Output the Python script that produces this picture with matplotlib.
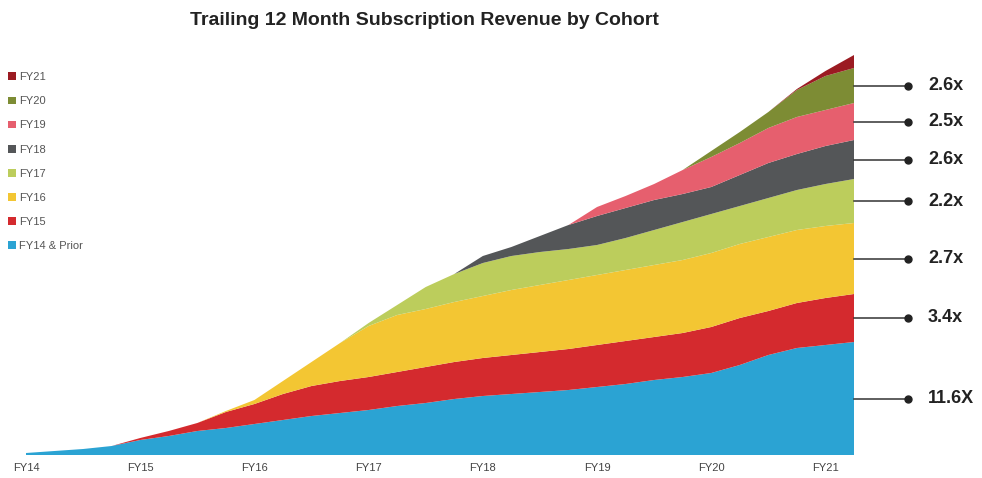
import numpy as np
import matplotlib.pyplot as plt

plt.rcParams['font.family'] = ['Liberation Sans', 'DejaVu Sans']

# quarterly points, FY14 = 0
quarters = np.arange(30) * 0.25
year_labels = ['FY14', 'FY15', 'FY16', 'FY17', 'FY18', 'FY19', 'FY20', 'FY21']

cohorts = ['FY14 & Prior', 'FY15', 'FY16', 'FY17', 'FY18', 'FY19', 'FY20', 'FY21']
fy14_prior = [2, 4, 6, 9, 15, 19, 24, 27, 31, 35, 39, 42, 45, 49, 52, 56, 59, 61, 63, 65,
              68, 71, 75, 78, 82, 90, 100, 107, 110, 113]
fy15 = [0, 0, 0, 0, 2, 5, 8, 16, 20, 26, 30, 32, 33, 34, 36, 37, 38, 39, 40, 41,
        42, 43, 43, 44, 46, 47, 44, 45, 47, 48]
fy16 = [0] * 7 + [1, 4, 13, 24, 38, 51, 57, 58, 60, 62, 65, 67, 69, 70, 71, 72, 73, 74,
                  74, 74, 73, 72, 71]
fy17 = [0] * 11 + [0, 3, 10, 22, 28, 33, 34, 33, 31, 30, 32, 35, 38, 39, 38, 39, 40, 42, 44]
fy18 = [0] * 15 + [0, 7, 9, 16, 24, 29, 30, 30, 28, 27, 31, 35, 36, 38, 39]
fy19 = [0] * 19 + [0, 9, 12, 16, 24, 30, 32, 35, 37, 36, 37]
fy20 = [0] * 23 + [0, 6, 11, 16, 27, 34, 35]
fy21 = [0] * 27 + [1, 5, 13]

multiples = ['11.6X', '3.4x', '2.7x', '2.2x', '2.6x', '2.5x', '2.6x']

colors = ['#2ba3d3', '#d42a2e', '#f3c633', '#bccd5c', '#545658', '#e65f6e', '#7d8c34', '#9b1b22']

layers = [fy14_prior, fy15, fy16, fy17, fy18, fy19, fy20, fy21]

fig = plt.figure(figsize=(9.82, 4.78), dpi=100)
ax = fig.add_axes([26 / 982, 23 / 478, 828 / 982, 455 / 478])

polys = ax.stackplot(quarters, *layers, colors=colors, labels=cohorts, linewidth=0)

ax.set_xlim(0, quarters[-1])
ax.set_ylim(0, 455)
ax.set_xticks(range(len(year_labels)))
ax.set_xticklabels(year_labels, fontsize=8, color='#444444')
ax.tick_params(axis='x', length=0, pad=6)
ax.set_yticks([])
for s in ax.spines.values():
    s.set_visible(False)

# callouts at the middle of each band on the last point
tops = np.cumsum([l[-1] for l in layers])
bottoms = np.concatenate([[0], tops[:-1]])
x_end = quarters[-1]
x_dot = x_end + 54 / (828 / 7.25)
x_txt = x_end + 74 / (828 / 7.25)
for i, lab in enumerate(multiples):
    ym = (tops[i] + bottoms[i]) / 2
    ax.plot([x_end, x_dot], [ym, ym], color='#333333', lw=1.1, clip_on=False)
    ax.plot([x_dot], [ym], 'o', color='#222222', ms=5, clip_on=False)
    ax.text(x_txt, ym, lab, fontsize=13, fontweight='bold', color='#222222',
            va='center', ha='left', clip_on=False)

h, l = ax.get_legend_handles_labels()
fig.legend(h[::-1], l[::-1], loc='upper left', bbox_to_anchor=(0.008, 0.849),
           frameon=False, fontsize=8, labelcolor='#555555', handlelength=0.7,
           handleheight=0.7, handletextpad=0.3, labelspacing=1.27,
           borderpad=0, borderaxespad=0)

fig.text(0.432, 0.958, 'Trailing 12 Month Subscription Revenue by Cohort',
         ha='center', va='center', fontsize=14, fontweight='bold', color='#222222')

fig.savefig('out.png', dpi=100)
